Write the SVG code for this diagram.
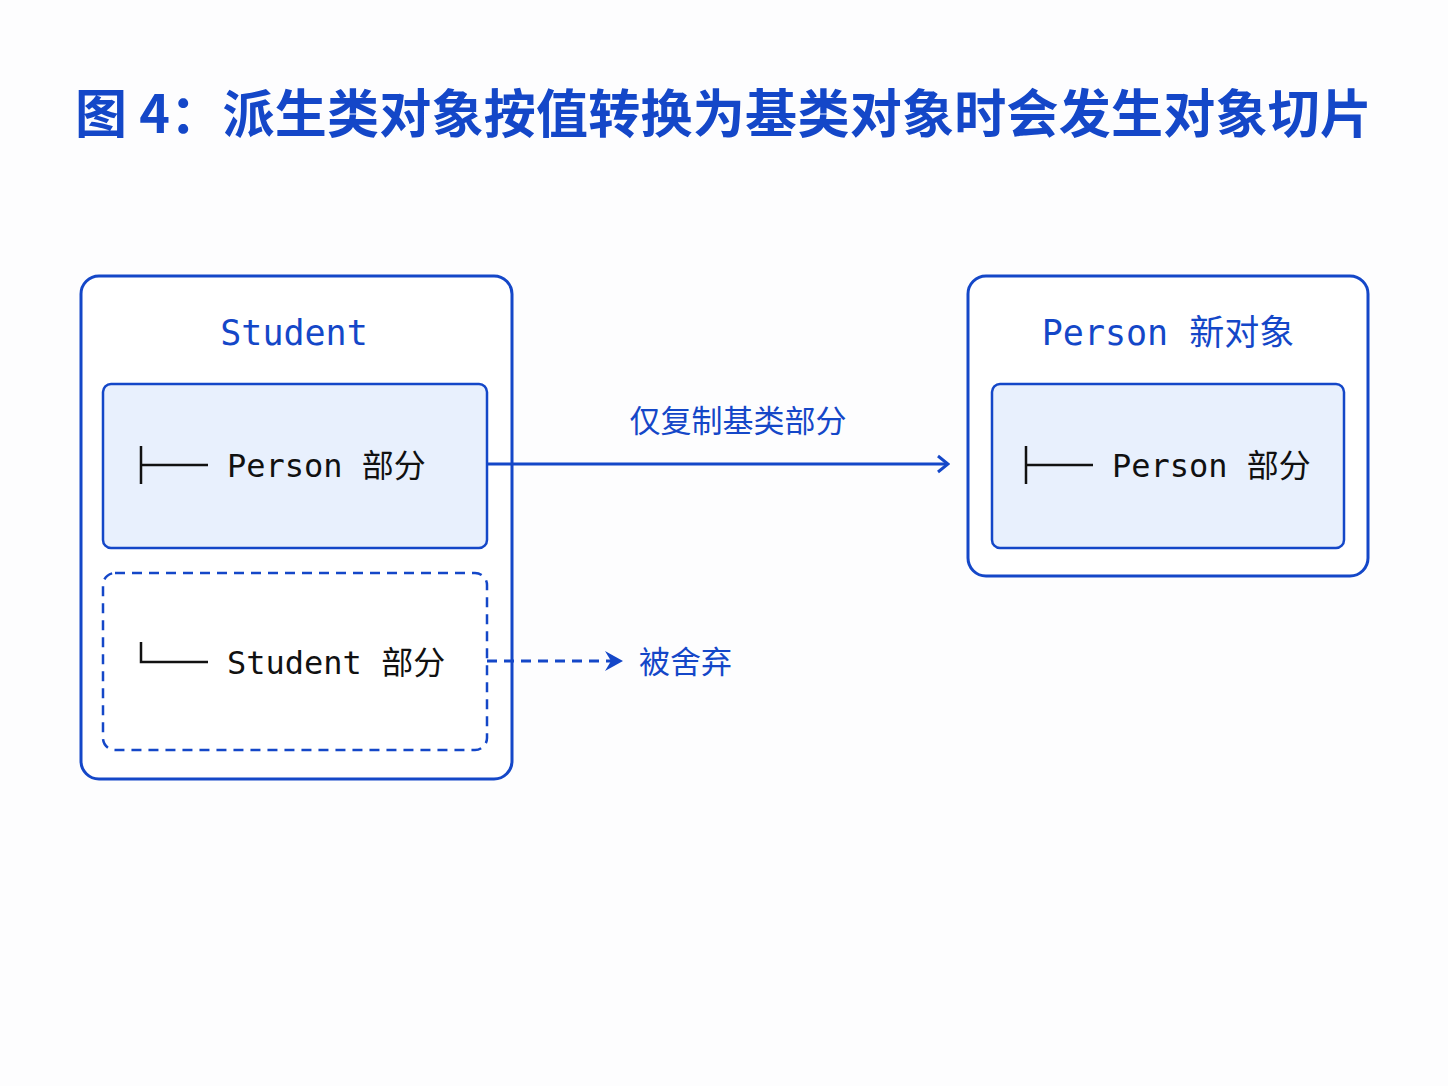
<svg xmlns="http://www.w3.org/2000/svg" width="1448" height="1086" viewBox="0 0 1448 1086">
<style>
.box{fill:#fff;stroke:#1447c8;stroke-width:3}
.part{fill:#e8f0fd;stroke:#1447c8;stroke-width:2.5}
.dash{fill:#fff;stroke:#1447c8;stroke-width:2.5;stroke-dasharray:10 7}
.hd{font-family:"DejaVu Sans Mono","Noto Sans CJK SC",monospace;font-size:35px;fill:#1447c8}
.tx{font-family:"DejaVu Sans Mono","Noto Sans CJK SC",monospace;font-size:32px;fill:#111}
.lb{font-family:"Noto Sans CJK SC",sans-serif;font-size:31px;fill:#1447c8}
.ln{stroke:#111;stroke-width:2.5;fill:none}
</style>
<defs>
<marker id="open" markerWidth="14" markerHeight="20" refX="12" refY="10" orient="auto" markerUnits="userSpaceOnUse"><path d="M2,2 L12,10 L2,18" fill="none" stroke="#1447c8" stroke-width="3"/></marker>
<marker id="tri" markerWidth="24" markerHeight="24" refX="22" refY="12" orient="auto" markerUnits="userSpaceOnUse"><path d="M4,2 L22,12 L4,22 L10,12 Z" fill="#1447c8"/></marker>
</defs>
<rect width="1448" height="1086" fill="#fdfdfe"/>
<text x="75" y="133" font-family="Noto Sans CJK SC,sans-serif" font-weight="bold" font-size="52" fill="#1447c8" textLength="1297">图 4：派生类对象按值转换为基类对象时会发生对象切片</text>
<g id="student">
<rect class="box" x="81" y="276" width="431" height="503" rx="18"/>
<text class="hd" x="294" y="345" text-anchor="middle">Student</text>
</g>
<g id="student-person-part">
<rect class="part" x="103" y="384" width="384" height="164" rx="8"/>
<path class="ln" d="M141,446 V484 M141,465 H208" />
<text class="tx" x="227" y="477">Person 部分</text>
</g>
<g id="student-student-part">
<rect class="dash" x="103" y="573" width="384" height="177" rx="12"/>
<path class="ln" d="M141,642 V662 H208"/>
<text class="tx" x="227" y="674">Student 部分</text>
</g>
<g id="person">
<rect class="box" x="968" y="276" width="400" height="300" rx="18"/>
<text class="hd" x="1168" y="345" text-anchor="middle">Person 新对象</text>
</g>
<g id="person-part">
<rect class="part" x="992" y="384" width="352" height="164" rx="8"/>
<path class="ln" d="M1026,446 V484 M1026,465 H1093"/>
<text class="tx" x="1112" y="477">Person 部分</text>
</g>
<g id="connectors">
<line x1="487" y1="464" x2="948" y2="464" stroke="#1447c8" stroke-width="3" marker-end="url(#open)"/>
<text class="lb" x="738" y="432" text-anchor="middle">仅复制基类部分</text>
<line x1="487" y1="661" x2="623" y2="661" stroke="#1447c8" stroke-width="3" stroke-dasharray="10 7" marker-end="url(#tri)"/>
<text class="lb" x="639" y="673">被舍弃</text>
</g>
</svg>
